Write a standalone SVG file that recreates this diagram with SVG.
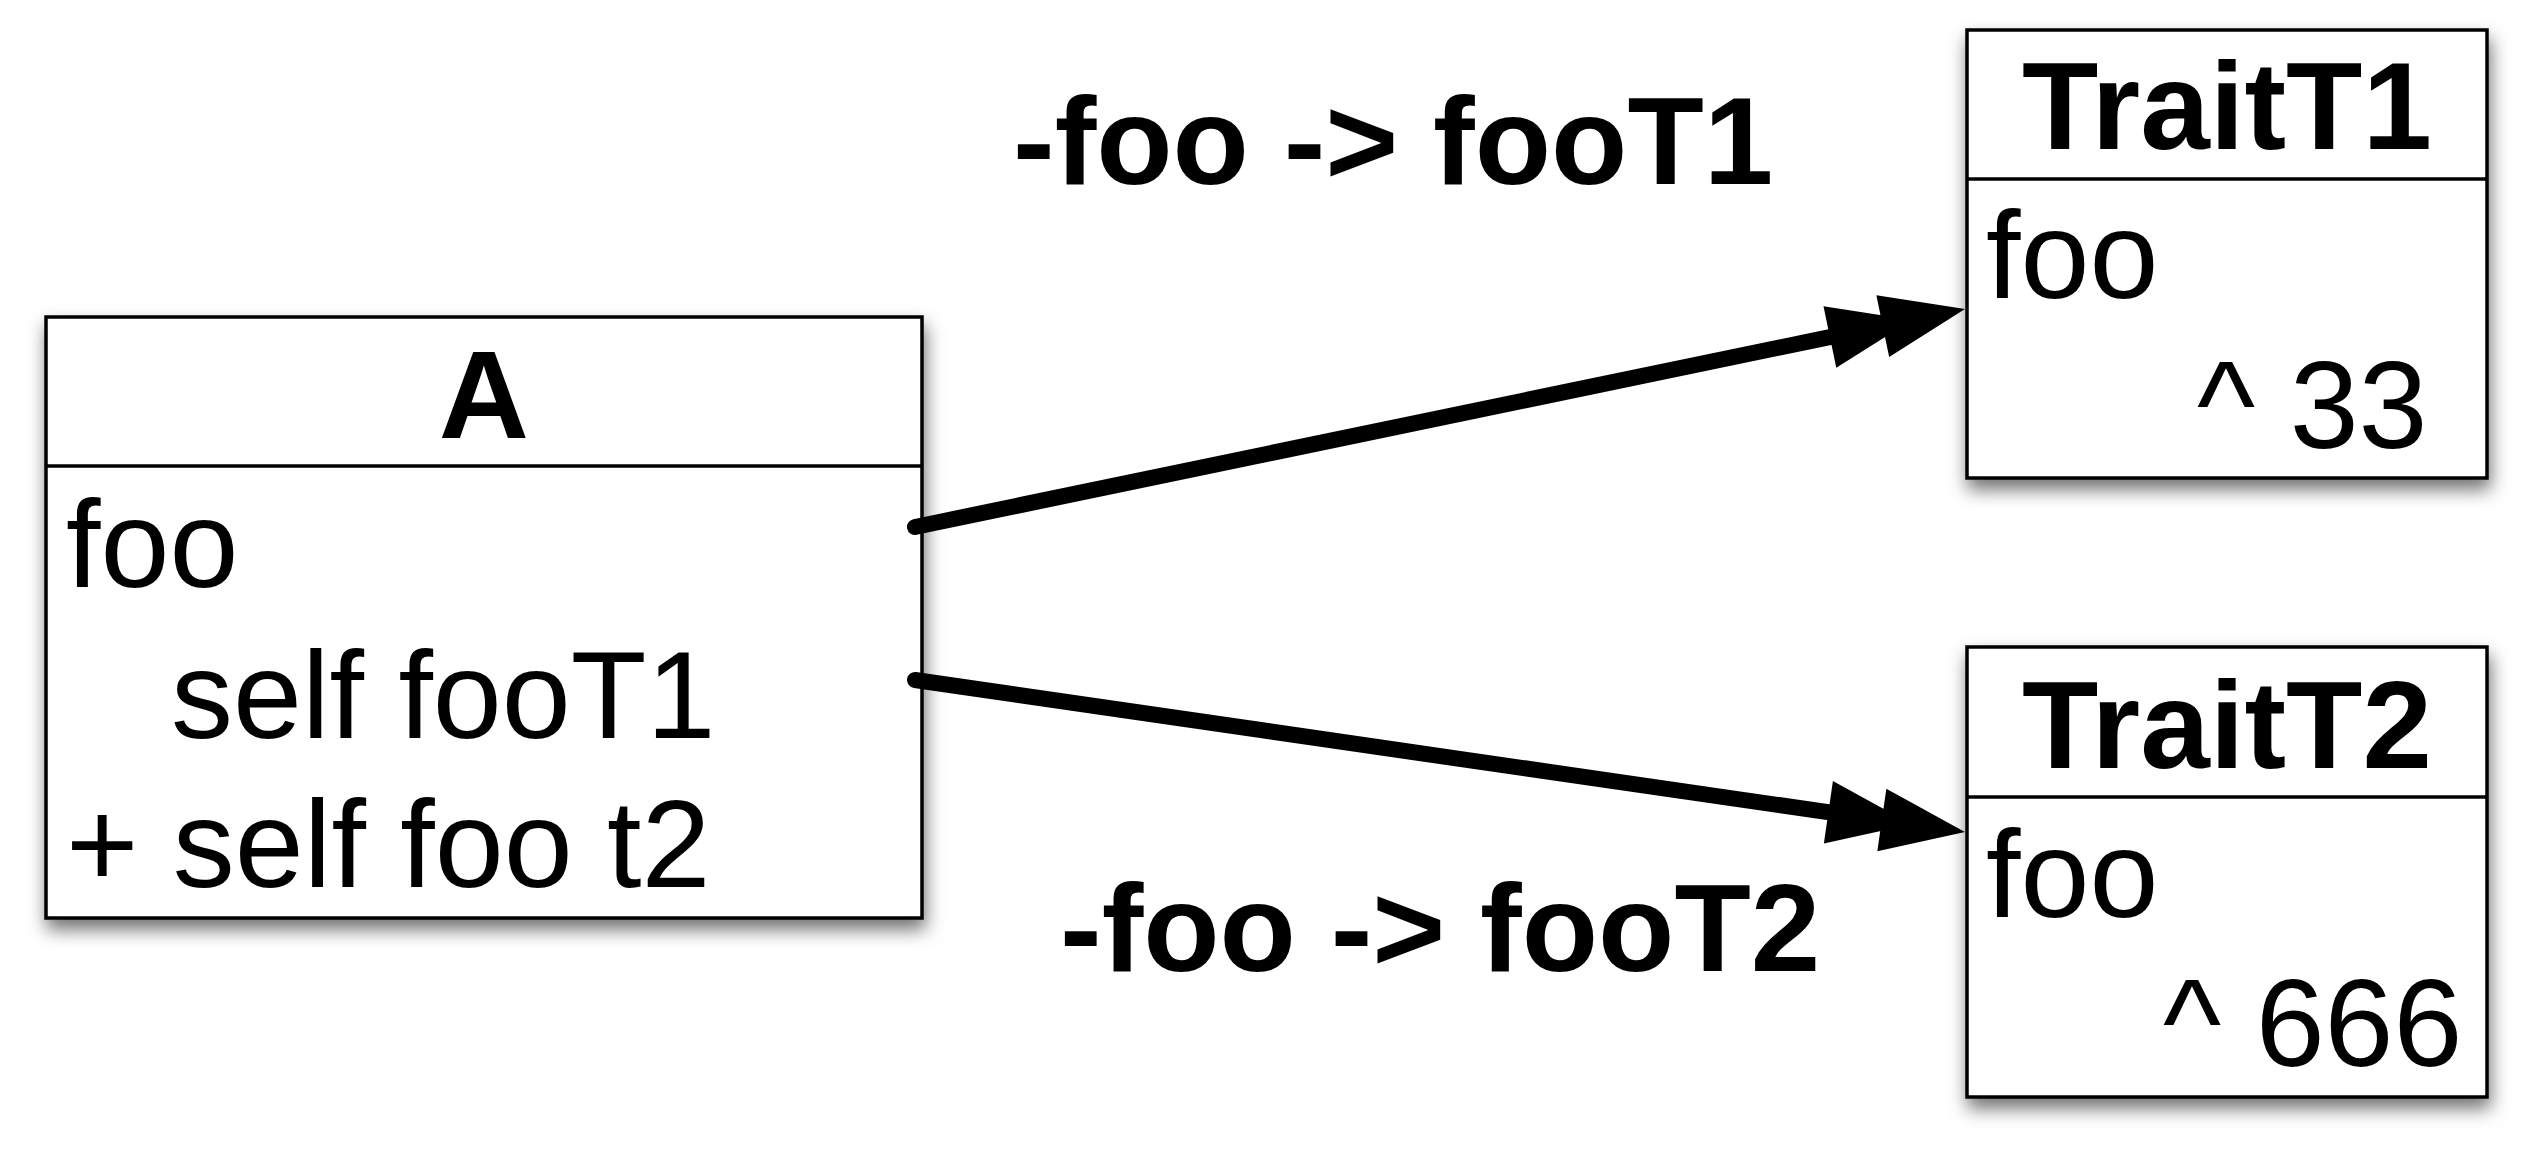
<svg xmlns="http://www.w3.org/2000/svg" width="2533" height="1158" viewBox="0 0 2533 1158">
<defs>
<filter id="shadow" x="-10%" y="-10%" width="120%" height="125%">
<feDropShadow dx="2" dy="10" stdDeviation="9" flood-color="#000" flood-opacity="0.55"/>
</filter>
<marker id="dbl" markerUnits="userSpaceOnUse" orient="auto" refX="0" refY="0" markerWidth="240" markerHeight="80" viewBox="-140 -40 240 80" overflow="visible">
<path d="M100,0 L16,-31.5 L16,31.5 Z M46,0 L-38,-31.5 L-38,31.5 Z" fill="#000"/>
</marker>
</defs>
<style>
.box{fill:#fff;stroke:#000;stroke-width:3.5}
.div{stroke:#000;stroke-width:3.5}
.title{font-family:"Liberation Sans",Arial,Helvetica,sans-serif;font-weight:bold;font-size:125px;fill:#000;text-anchor:middle}
.body{font-family:"Liberation Sans",Arial,Helvetica,sans-serif;font-size:124px;fill:#000}
.lbl{font-family:"Liberation Sans",Arial,Helvetica,sans-serif;font-weight:bold;font-size:125px;fill:#000}
.conn{fill:none;stroke:#000;stroke-width:16;stroke-linecap:round}
</style>
<rect width="2533" height="1158" fill="#fff"/>
<g id="A">
<rect class="box" x="46" y="317" width="876" height="601" filter="url(#shadow)"/>
<line class="div" x1="46" y1="466" x2="922" y2="466"/>
<text class="title" x="484" y="438">A</text>
<text class="body" x="66" y="587">foo</text>
<text class="body" x="171" y="738">self fooT1</text>
<text class="body" x="66" y="887">+ self foo t2</text>
</g>
<g id="TraitT1">
<rect class="box" x="1967" y="30" width="520" height="448" filter="url(#shadow)"/>
<line class="div" x1="1967" y1="179" x2="2487" y2="179"/>
<text class="title" x="2227" y="149">TraitT1</text>
<text class="body" x="1986" y="298">foo</text>
<text class="body" x="2197" y="448">^ 33</text>
</g>
<g id="TraitT2">
<rect class="box" x="1967" y="647" width="520" height="450" filter="url(#shadow)"/>
<line class="div" x1="1967" y1="797" x2="2487" y2="797"/>
<text class="title" x="2227" y="768">TraitT2</text>
<text class="body" x="1986" y="917">foo</text>
<text class="body" x="2163" y="1066">^ 666</text>
</g>
<g id="connectors">
<path class="conn" d="M915,527 L1867.1,329.3" marker-end="url(#dbl)"/>
<path class="conn" d="M915,680 L1866,817.7" marker-end="url(#dbl)"/>
<text class="lbl" x="1013" y="184">-foo -&gt; fooT1</text>
<text class="lbl" x="1060" y="971">-foo -&gt; fooT2</text>
</g>
</svg>
